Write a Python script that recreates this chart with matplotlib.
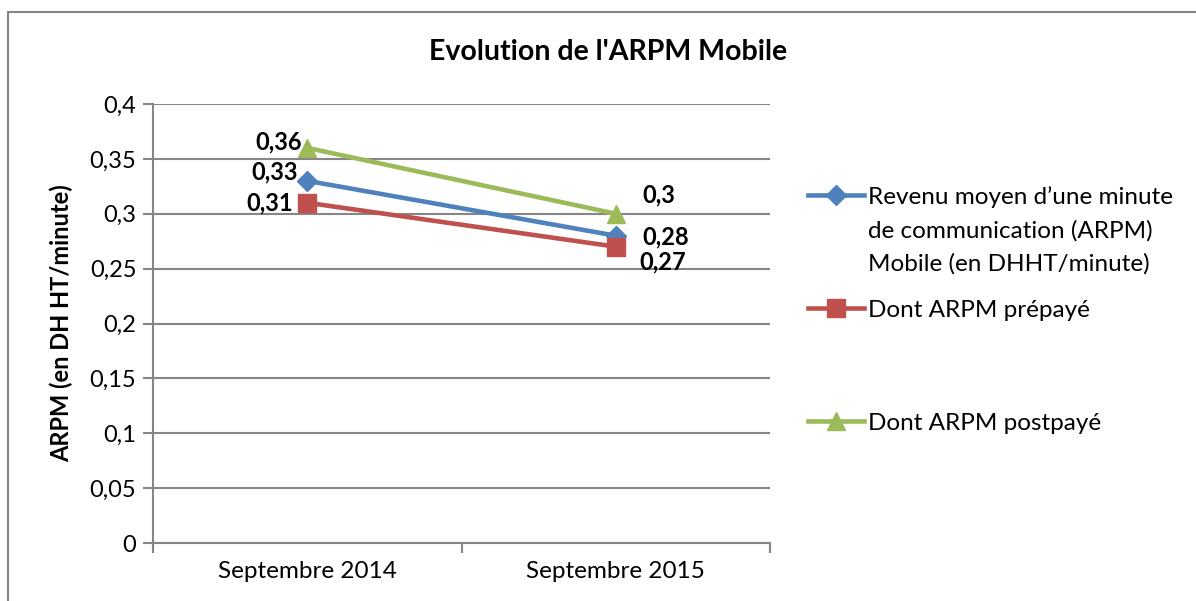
import matplotlib.pyplot as plt
from matplotlib.patches import Rectangle
from matplotlib.lines import Line2D

plt.rcParams["font.family"] = ["Lato", "DejaVu Sans"]

# data
periods = ["Septembre 2014", "Septembre 2015"]
arpm_total = [0.33, 0.28]
arpm_prepaye = [0.31, 0.27]
arpm_postpaye = [0.36, 0.30]
labels_total = ["0,33", "0,28"]
labels_prepaye = ["0,31", "0,27"]
labels_postpaye = ["0,36", "0,3"]
legend_names = ["Revenu moyen d\u2019une minute\nde communication (ARPM)\nMobile (en DHHT/minute)",
                "Dont ARPM prépayé",
                "Dont ARPM postpayé"]
yticks = [0, 0.05, 0.1, 0.15, 0.2, 0.25, 0.3, 0.35, 0.4]
ytick_labels = ["0", "0,05", "0,1", "0,15", "0,2", "0,25", "0,3", "0,35", "0,4"]

BLUE, RED, GREEN = "#4F81BD", "#C0504D", "#9BBB59"
GRID = "#868686"
FS = 17
LFS = 17.5

W, H = 1196, 601
fig = plt.figure(figsize=(W / 100, H / 100), dpi=100)
ax = fig.add_axes([153 / W, 1 - 543 / H, (770 - 153) / W, (543 - 104) / H])

# outer chart border (cut at right and bottom like the screenshot)
fig.patches.append(Rectangle((8 / W, -0.2), 1.2, 1.2 - 12 / H, transform=fig.transFigure,
                             fill=False, edgecolor=GRID, linewidth=1.5))

xs = [0.5, 1.5]
series = [
    (arpm_total, BLUE, "D", 10, labels_total, [(-9, 9), (27, -1)]),
    (arpm_prepaye, RED, "s", 13, labels_prepaye, [(-14, 0), (24, -15)]),
    (arpm_postpaye, GREEN, "^", 13, labels_postpaye, [(-5, 6), (27, 19)]),
]
handles = []
for vals, col, mk, ms, labs, offs in series:
    ax.plot(xs, vals, color=col, linewidth=3.3, marker=mk, markersize=ms,
            markeredgecolor=col, zorder=3, clip_on=False)
    for x, v, lab, off, ha in zip(xs, vals, labs, offs, ["right", "left"]):
        ax.annotate(lab, (x, v), xytext=off, textcoords="offset pixels",
                    ha=ha, va="center", fontsize=17, fontweight="bold", color="black")
    handles.append(Line2D([], [], color=col, linewidth=3.3, marker=mk,
                          markersize=ms, markeredgecolor=col))

ax.set_xlim(0, 2)
ax.set_ylim(0, 0.4)
ax.set_yticks(yticks)
ax.set_yticklabels(ytick_labels, fontsize=FS)
ax.set_xticks([0, 1, 2])
ax.set_xticklabels([])
ax.set_xticks(xs, minor=True)
ax.set_xticklabels(periods, minor=True, fontsize=17.5)
ax.tick_params(axis="x", which="minor", length=0, pad=13)
ax.tick_params(axis="x", which="major", length=7, color=GRID, width=1.5)
ax.tick_params(axis="y", length=7, color=GRID, width=1.5, pad=5)
ax.yaxis.grid(True, color=GRID, linewidth=1.5)
ax.set_axisbelow(True)
for s in ["top", "right"]:
    ax.spines[s].set_visible(False)
for s in ["left", "bottom"]:
    ax.spines[s].set_color(GRID)
    ax.spines[s].set_linewidth(1.5)

ax.set_ylabel("ARPM (en DH HT/minute)", fontsize=FS, fontweight="bold", labelpad=12)
fig.text(608 / W, 1 - 52 / H, "Evolution de l'ARPM Mobile", ha="center", va="center",
         fontsize=20.5, fontweight="bold")

# legend entries, placed one by one; the marker sits on the first text line
legend_y = [197, 310, 423]
line_gap = 33.5
legs = []
for h, name, y in zip(handles, legend_names, legend_y):
    first = name.split("\n")[0]
    leg = fig.legend([h], [first], loc="center left", bbox_to_anchor=(808 / W, 1 - y / H),
                     frameon=False, fontsize=LFS, handlelength=2.3, handletextpad=0.15,
                     borderaxespad=0, borderpad=0)
    legs.append(leg)

fig.canvas.draw()
for leg, name, y in zip(legs, legend_names, legend_y):
    tx = leg.get_texts()[0].get_window_extent().x0
    for i, extra in enumerate(name.split("\n")[1:], start=1):
        fig.text(tx / W, 1 - (y + i * line_gap) / H, extra, ha="left", va="center",
                 fontsize=LFS)

fig.savefig("out.png", dpi=100)
